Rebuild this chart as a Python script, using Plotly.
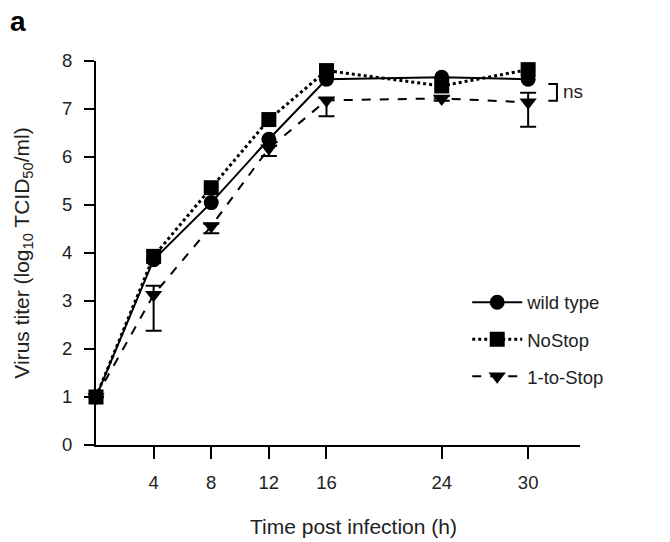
import plotly.graph_objects as go

time_h = [0, 4, 8, 12, 16, 24, 30]
wild_type = [1.0, 3.86, 5.05, 6.37, 7.62, 7.66, 7.62]
no_stop = [1.0, 3.93, 5.36, 6.78, 7.80, 7.48, 7.82]
one_to_stop = [1.0, 3.13, 4.56, 6.18, 7.18, 7.22, 7.14]
one_to_stop_err_plus = [0, 0.19, 0.05, 0.05, 0.05, 0.05, 0.20]
one_to_stop_err_minus = [0, 0.75, 0.15, 0.16, 0.33, 0.05, 0.51]
x_tick_vals = [4, 8, 12, 16, 24, 30]
y_tick_vals = [0, 1, 2, 3, 4, 5, 6, 7, 8]

FONT = "Liberation Sans, Arial, sans-serif"
TXT = "#222"

fig = go.Figure()

fig.add_trace(go.Scatter(
    x=time_h, y=no_stop, name="NoStop", mode="lines+markers",
    line=dict(color="black", width=3, dash="dot"),
    marker=dict(symbol="square", size=15, color="black"),
    cliponaxis=False, legendgroup="b", legendrank=2,
))
fig.add_trace(go.Scatter(
    x=time_h, y=one_to_stop, name="1-to-Stop", mode="lines+markers",
    line=dict(color="black", width=2, dash="dash"),
    marker=dict(symbol="triangle-down", size=15, color="black"),
    error_y=dict(type="data", array=one_to_stop_err_plus, arrayminus=one_to_stop_err_minus,
                 symmetric=False, color="black", thickness=2, width=8),
    cliponaxis=False, legendgroup="c", legendrank=3,
))
fig.add_trace(go.Scatter(
    x=time_h, y=wild_type, name="wild type", mode="lines+markers",
    line=dict(color="black", width=2),
    marker=dict(symbol="circle", size=15, color="black"),
    cliponaxis=False, legendgroup="a", legendrank=1,
))

# ns bracket
fig.add_shape(type="path", path="M 31.4 7.52 L 32.0 7.52 L 32.0 7.17 L 31.4 7.17",
              line=dict(color="black", width=2), xref="x", yref="y")
fig.add_annotation(x=32.3, y=7.36, xref="x", yref="y", text="ns", showarrow=False,
                   xanchor="left", yanchor="middle",
                   font=dict(family=FONT, size=19, color=TXT))

fig.add_annotation(x=-0.182, y=1.057, xref="paper", yref="paper", text="<b>a</b>",
                   showarrow=False, xanchor="left", yanchor="bottom",
                   font=dict(family=FONT, size=28, color="black"))
fig.add_annotation(x=(353 - 96) / 484, y=(445 - 526) / 384, xref="paper", yref="paper",
                   text="Time post infection (h)", showarrow=False,
                   xanchor="center", yanchor="middle",
                   font=dict(family=FONT, size=21, color=TXT))

fig.update_layout(
    width=670, height=542,
    margin=dict(l=96, r=90, t=61, b=97),
    paper_bgcolor="white", plot_bgcolor="white",
    font=dict(family=FONT, size=18, color=TXT),
    showlegend=True,
    legend=dict(x=0.767, y=0.42, xanchor="left", yanchor="top",
                font=dict(family=FONT, size=18.5, color=TXT),
                itemwidth=50, tracegroupgap=10, bgcolor="rgba(0,0,0,0)"),
    xaxis=dict(range=[0, 33.6], tickvals=x_tick_vals, showgrid=False, zeroline=False,
               showline=True, linecolor="black", linewidth=2, automargin=False,
               ticks="outside", ticklen=12, tickwidth=2, tickcolor="black",
               ticklabelstandoff=8, tickfont=dict(size=18.5, color=TXT)),
    yaxis=dict(range=[0, 8], tickvals=y_tick_vals, showgrid=False, zeroline=False,
               showline=True, linecolor="black", linewidth=2, automargin=False,
               ticks="outside", ticklen=10, tickwidth=2, tickcolor="black",
               ticklabelstandoff=8, tickfont=dict(size=18.5, color=TXT),
               title=dict(text="Virus titer (log<sub>10</sub> TCID<sub>50</sub>/ml)",
                          font=dict(size=21, color=TXT), standoff=27)),
)

fig.write_html("out.html", config={"displayModeBar": False},
               post_script="document.body.style.margin='0';")
